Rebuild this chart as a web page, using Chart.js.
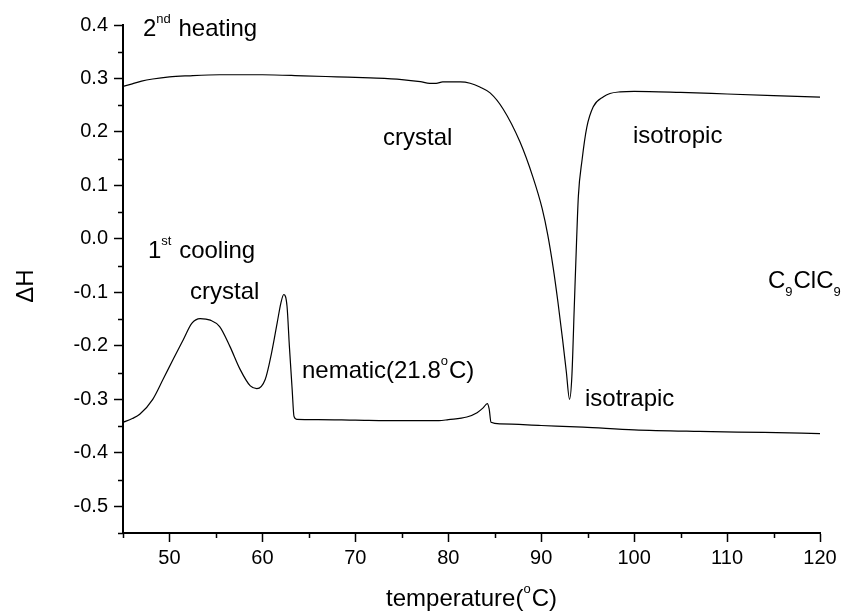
<!DOCTYPE html>
<html>
<head>
<meta charset="utf-8">
<script src="https://cdn.jsdelivr.net/npm/chart.js@4.4.1/dist/chart.umd.min.js"></script>
<style>
html,body{margin:0;padding:0;background:#fff;}
#c{display:block;}
</style>
</head>
<body>
<canvas id="c" width="846" height="612"></canvas>
<script>
// ---- data ----
const heatingT = [45.0,46,47,48.2,50,52,55.4,60,64.4,68,71.6,75,77,78,78.7,79.4,81.3,82.35,83.4,84.5,85.9,87.7,89.1,90.1,90.7,91.3,91.8,92.3,92.7,93.05,93.3,93.55,93.8,94.0,94.4,94.9,95.6,96.7,97.4,98.5,100,105,110,115,120];
const heatingH = [0.285,0.290,0.295,0.299,0.303,0.305,0.307,0.307,0.305,0.303,0.301,0.298,0.294,0.291,0.291,0.2935,0.2935,0.291,0.284,0.273,0.243,0.182,0.116,0.057,0.008,-0.055,-0.118,-0.188,-0.248,-0.300,-0.257,-0.132,-0.007,0.080,0.148,0.208,0.247,0.266,0.272,0.275,0.276,0.274,0.271,0.268,0.265];
const coolingT = [45.0,46.0,46.8,48.2,49.3,50.4,51.5,52.4,53.3,54.4,55.4,56.5,57.6,58.7,59.4,60.3,61.0,61.6,62.0,62.3,62.65,62.9,63.2,63.4,63.7,66,70,75,79,80,82,83.1,83.75,84.2,84.4,84.6,85.6,90,94.5,100,107,114,120];
const coolingH = [-0.343,-0.336,-0.328,-0.300,-0.263,-0.225,-0.188,-0.158,-0.149,-0.152,-0.164,-0.201,-0.244,-0.275,-0.280,-0.263,-0.212,-0.156,-0.119,-0.104,-0.126,-0.200,-0.281,-0.332,-0.3375,-0.338,-0.339,-0.340,-0.340,-0.338,-0.333,-0.325,-0.316,-0.308,-0.318,-0.343,-0.346,-0.349,-0.352,-0.357,-0.360,-0.362,-0.364];
const xMajorTicks = [50,60,70,80,90,100,110,120];
const xMinorTicks = [45,55,65,75,85,95,105,115];
const yMajorTicks = [-0.5,-0.4,-0.3,-0.2,-0.1,0.0,0.1,0.2,0.3,0.4];
const yMinorTicks = [-0.55,-0.45,-0.35,-0.25,-0.15,-0.05,0.05,0.15,0.25,0.35];

const FONT = '"Liberation Sans", Arial, sans-serif';

function pts(xs, ys){ return xs.map((x,i)=>({x:x, y:ys[i]})); }
function isMajorX(v){ return xMajorTicks.some(t=>Math.abs(t-v)<1e-6); }
function isMajorY(v){ return yMajorTicks.some(t=>Math.abs(t-v)<1e-6); }

const decor = {
  id:'decor',
  afterDraw(chart){
    const ctx = chart.ctx, xs = chart.scales.x, ys = chart.scales.y;
    const ca = chart.chartArea;
    ctx.save();
    ctx.strokeStyle = '#000';
    ctx.lineWidth = 1.5;
    // minor ticks
    ctx.beginPath();
    xMinorTicks.forEach(v=>{ const p = Math.round(xs.getPixelForValue(v))+0.5; ctx.moveTo(p, ca.bottom); ctx.lineTo(p, ca.bottom+5); });
    yMinorTicks.forEach(v=>{ const p = Math.round(ys.getPixelForValue(v))+0.5; ctx.moveTo(ca.left, p); ctx.lineTo(ca.left-5, p); });
    ctx.stroke();

    ctx.fillStyle = '#000';
    ctx.textBaseline = 'alphabetic';
    ctx.textAlign = 'left';
    const big = '24px ' + FONT, small = '13px ' + FONT;
    function run(x, y, parts){
      parts.forEach(([t, m])=>{
        ctx.font = m ? small : big;
        const dy = m==='sup' ? -13 : (m==='sub' ? 8 : 0);
        ctx.fillText(t, x, y+dy);
        x += ctx.measureText(t).width + (m ? 1 : 0);
      });
      return x;
    }
    function at(T, H){ return [xs.getPixelForValue(T), ys.getPixelForValue(H)]; }
    let p;
    p = at(47.15, 0.3795); run(p[0], p[1], [['2',''],['nd','sup'],[' heating','']]);
    p = at(72.98, 0.176);  run(p[0], p[1], [['crystal','']]);
    p = at(99.88, 0.180);  run(p[0], p[1], [['isotropic','']]);
    p = at(47.69, -0.035); run(p[0], p[1], [['1',''],['st','sup'],[' cooling','']]);
    p = at(52.21, -0.1116);run(p[0], p[1], [['crystal','']]);
    p = at(114.4, -0.091); run(p[0], p[1], [['C',''],['9','sub'],['ClC',''],['9','sub']]);
    p = at(64.26, -0.261); run(p[0], p[1], [['nematic(21.8',''],['o','sup'],['C)','']]);
    p = at(94.71, -0.313); run(p[0], p[1], [['isotrapic','']]);

    const parts = [['temperature(',''],['o','sup'],['C)','']];
    let w = 0;
    parts.forEach(([t,m])=>{ ctx.font = m?small:big; w += ctx.measureText(t).width + (m?1:0); });
    run((ca.left+ca.right)/2 - w/2, 606, parts);

    ctx.save();
    ctx.translate(33, 286);
    ctx.rotate(-Math.PI/2);
    ctx.font = big;
    ctx.textAlign = 'center';
    ctx.fillText('\u0394H', 0, 0);
    ctx.restore();
    ctx.restore();
  }
};

new Chart(document.getElementById('c'), {
  type:'line',
  data:{
    datasets:[
      {label:'2nd heating', data:pts(heatingT, heatingH), borderColor:'#000', borderWidth:1.2, pointRadius:0, fill:false, cubicInterpolationMode:'monotone'},
      {label:'1st cooling', data:pts(coolingT, coolingH), borderColor:'#000', borderWidth:1.2, pointRadius:0, fill:false, cubicInterpolationMode:'monotone'}
    ]
  },
  options:{
    responsive:false,
    animation:false,
    devicePixelRatio:1,
    layout:{padding:{left:0, top:25, right:26, bottom:0}},
    plugins:{legend:{display:false}, tooltip:{enabled:false}, title:{display:false}},
    scales:{
      x:{
        type:'linear', min:45, max:120,
        afterFit(s){ s.height = 79; },
        border:{display:true, color:'#000', width:2},
        grid:{display:true, drawOnChartArea:false, drawTicks:true, tickLength:9, tickWidth:1.5,
              tickColor:(c)=> (c.tick && isMajorX(c.tick.value)) ? '#000' : 'rgba(0,0,0,0)'},
        ticks:{stepSize:5, autoSkip:false, maxRotation:0, color:'#000', padding:4,
               font:{family:FONT, size:20},
               callback:(v)=> isMajorX(v) ? String(Math.round(v)) : ''}
      },
      y:{
        type:'linear', min:-0.55, max:0.4,
        afterFit(s){ s.width = 123; },
        border:{display:true, color:'#000', width:2},
        grid:{display:true, drawOnChartArea:false, drawTicks:true, tickLength:9, tickWidth:1.5,
              tickColor:(c)=> (c.tick && isMajorY(c.tick.value)) ? '#000' : 'rgba(0,0,0,0)'},
        ticks:{stepSize:0.05, autoSkip:false, color:'#000', padding:6,
               font:{family:FONT, size:20},
               callback:(v)=> isMajorY(v) ? (Math.abs(v)<1e-9 ? '0.0' : v.toFixed(1)) : ''}
      }
    }
  },
  plugins:[decor]
});
</script>
</body>
</html>
